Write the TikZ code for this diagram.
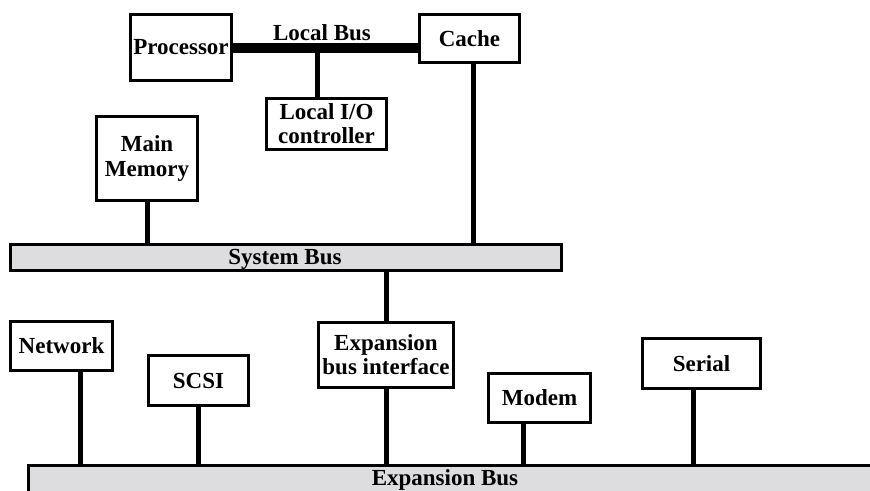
\documentclass[tikz,border=0pt]{standalone}
\usepackage{fontspec}
\setmainfont{Liberation Serif}
\definecolor{busgray}{RGB}{221,221,223}
\tikzset{
  box/.style={draw=black, line width=3pt, fill=white, inner sep=0pt, align=center,
              font=\fontsize{23}{24}\selectfont\bfseries},
  bus/.style={draw=black, line width=3pt, fill=busgray, inner sep=0pt},
  conn/.style={line width=5pt},
  lbus/.style={line width=10pt},
  lbl/.style={inner sep=0pt, font=\fontsize{23}{24}\selectfont\bfseries}
}
\begin{document}
\begin{tikzpicture}[x=1pt,y=-1pt]
\useasboundingbox (0,0) rectangle (870,490);
\begin{scope}
\clip (0,0) rectangle (870,490);
% top level
\node[box, minimum width=101pt, minimum height=66pt] (proc) at (181,47.5) {Processor};
\node[box, minimum width=100pt, minimum height=48pt] (cache) at (469.5,38.5) {Cache};
\node[box, minimum width=120pt, minimum height=51pt] (lio) at (326.5,124) {Local I/O\\controller};
\node[box, minimum width=101pt, minimum height=84pt, font=\fontsize{23}{25}\selectfont\bfseries] (mem) at (147,158.5) {Main\\Memory};
% system bus
\node[bus, minimum width=551pt, minimum height=26pt] (sysbus) at (286,257.5) {};
\node[lbl] (syslbl) at (285,259) {System Bus};
% expansion devices
\node[box, minimum width=102pt, minimum height=49pt] (net) at (61.5,346) {Network};
\node[box, minimum width=100pt, minimum height=50pt] (scsi) at (198.5,380.5) {SCSI};
\node[box, minimum width=135pt, minimum height=65pt] (ebi) at (386,354.5) {Expansion\\bus interface};
\node[box, minimum width=102pt, minimum height=49pt] (modem) at (539.5,398) {Modem};
\node[box, minimum width=118pt, minimum height=50pt] (serial) at (701.5,363.5) {Serial};
% expansion bus (runs off the page)
\node[bus, minimum width=880pt, minimum height=50pt] (expbus) at (468.5,490.5) {};
\node[lbl] (explbl) at (445,480) {Expansion Bus};
% local bus
\draw[lbus] (proc.east |- 0,48) -- (cache.west |- 0,48);
\node[lbl] (lbuslbl) at (322,33) {Local Bus};
\coordinate (lbtap) at (317,53);
\draw[conn] (lbtap) -- (lbtap |- lio.north);
% connectors to system bus
\draw[conn] (mem.south) -- (mem.south |- sysbus.north);
\draw[conn] ([xshift=3.5]cache.south) -- ([xshift=3.5]cache.south |- sysbus.north);
\draw[conn] (ebi.north) -- (ebi.north |- sysbus.south);
% connectors to expansion bus
\draw[conn] ([xshift=18.5]net.south) -- ([xshift=18.5]net.south |- expbus.north);
\draw[conn] (scsi.south) -- (scsi.south |- expbus.north);
\draw[conn] (ebi.south) -- (ebi.south |- expbus.north);
\draw[conn] ([xshift=-16.5]modem.south) -- ([xshift=-16.5]modem.south |- expbus.north);
\draw[conn] ([xshift=-8.5]serial.south) -- ([xshift=-8.5]serial.south |- expbus.north);
\end{scope}
\end{tikzpicture}
\end{document}
